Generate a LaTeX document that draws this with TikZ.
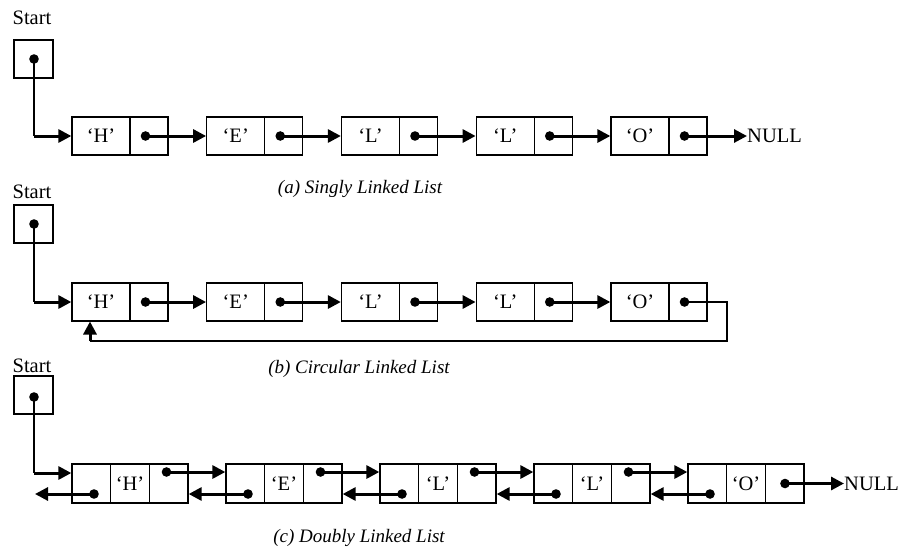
\documentclass[tikz,border=0pt]{standalone}
\usepackage{fontspec}
\setmainfont{Liberation Serif}
\usetikzlibrary{arrows.meta,calc}
\begin{document}
\begin{tikzpicture}[x=1pt,y=-1pt,
  txt/.style={font=\fontsize{20.5}{24}\selectfont, inner sep=0pt},
  captxt/.style={font=\itshape\fontsize{19}{23}\selectfont, inner sep=0pt},
  cell/.style={draw, line width=1.3pt, minimum height=38pt, inner sep=0pt, font=\fontsize{20.5}{24}\selectfont},
  ptr/.style={line width=3pt, -{Triangle[length=13pt,width=13pt]}},
  thinl/.style={line width=1.6pt},
  dotr/.style={radius=4.8pt}]
\useasboundingbox (0,0) rectangle (901,549);

% ---------- (a) singly linked list ----------
\node[txt] (sa) at (32,18) {Start};
\node[cell, minimum width=39pt] (sabox) at (33.5,59) {};
\coordinate (sadot) at (34,59);
\fill[dotr] (sadot) circle;
\foreach \ch [count=\i from 0] in {H,E,L,L,O}{
  \pgfmathsetmacro{\X}{72+134.75*\i}
  \node[cell, minimum width=58pt] (a\i d) at (\X+29,136) {`\ch'};
  \node[cell, minimum width=38pt] (a\i p) at (\X+77,136) {};
  \coordinate (a\i dot) at (\X+73.5,136);
  \fill[dotr] (a\i dot) circle;
}
\coordinate (acorner) at (sadot |- a0d.west);
\draw[thinl] (sadot) -- (acorner);
\draw[ptr] (acorner) -- (a0d.west);
\foreach \i/\j in {0/1,1/2,2/3,3/4}{
  \draw[ptr] (a\i dot) -- (a\j d.west);
}
\node[txt, anchor=west] (anull) at (747,136) {NULL};
\draw[ptr] (a4dot) -- (anull.west);
\node[captxt] (capa) at (360,189) {(a) Singly Linked List};

% ---------- (b) circular linked list ----------
\node[txt] (sb) at (32,192) {Start};
\node[cell, minimum width=39pt] (sbbox) at (33.5,224) {};
\coordinate (sbdot) at (34,224);
\fill[dotr] (sbdot) circle;
\foreach \ch [count=\i from 0] in {H,E,L,L,O}{
  \pgfmathsetmacro{\X}{72+134.75*\i}
  \node[cell, minimum width=58pt] (b\i d) at (\X+29,302) {`\ch'};
  \node[cell, minimum width=38pt] (b\i p) at (\X+77,302) {};
  \coordinate (b\i dot) at (\X+73.5,302);
  \fill[dotr] (b\i dot) circle;
}
\coordinate (bcorner) at (sbdot |- b0d.west);
\draw[thinl] (sbdot) -- (bcorner);
\draw[ptr] (bcorner) -- (b0d.west);
\foreach \i/\j in {0/1,1/2,2/3,3/4}{
  \draw[ptr] (b\i dot) -- (b\j d.west);
}
\coordinate (bret1) at (727,302);
\coordinate (bret2) at (727,341);
\coordinate (bret3) at (90,341);
\coordinate (bhit) at (90,321.5);
\draw[thinl] (b4dot) -- (bret1) -- (bret2) -- (bret3);
\draw[ptr] (bret3) -- (bhit);
\node[captxt] (capb) at (359,369) {(b) Circular Linked List};

% ---------- (c) doubly linked list ----------
\node[txt] (sc) at (32,366) {Start};
\node[cell, minimum width=39pt] (scbox) at (33.5,395) {};
\coordinate (scdot) at (34,397);
\fill[dotr] (scdot) circle;
\foreach \ch [count=\i from 0] in {H,E,L,L,O}{
  \pgfmathsetmacro{\X}{72+154*\i}
  \node[cell, minimum width=38.67pt, minimum height=39pt] (c\i l) at (\X+19.33,483.5) {};
  \node[cell, minimum width=38.67pt, minimum height=39pt] (c\i m) at (\X+58,483.5) {`\ch'};
  \node[cell, minimum width=38.67pt, minimum height=39pt] (c\i r) at (\X+96.67,483.5) {};
  \coordinate (c\i b) at (\X+22,494);
}
\foreach \i in {0,1,2,3}{
  \pgfmathsetmacro{\X}{72+154*\i}
  \coordinate (c\i f) at (\X+94.5,472);
  \fill[dotr] (c\i f) circle;
}
\foreach \i in {0,1,2,3,4}{
  \fill[dotr] (c\i b) circle;
}
\coordinate (c4f) at (785,483.5);
\fill[dotr] (c4f) circle;
\coordinate (ccorner) at (34,473);
\draw[thinl] (scdot) -- (ccorner);
\draw[ptr] (ccorner) -- (c0l.west |- ccorner);
\foreach \i/\j in {0/1,1/2,2/3,3/4}{
  \draw[ptr] (c\i f) -- (c\j l.west |- c\i f);
  \draw[ptr] (c\j b) -- (c\i r.east |- c\j b);
}
\coordinate (cend) at (35,494);
\draw[ptr] (c0b) -- (cend);
\node[txt, anchor=west] (cnull) at (844,483.5) {NULL};
\draw[ptr] (c4f) -- (cnull.west);
\node[captxt] (capc) at (359,538) {(c) Doubly Linked List};
\end{tikzpicture}
\end{document}
